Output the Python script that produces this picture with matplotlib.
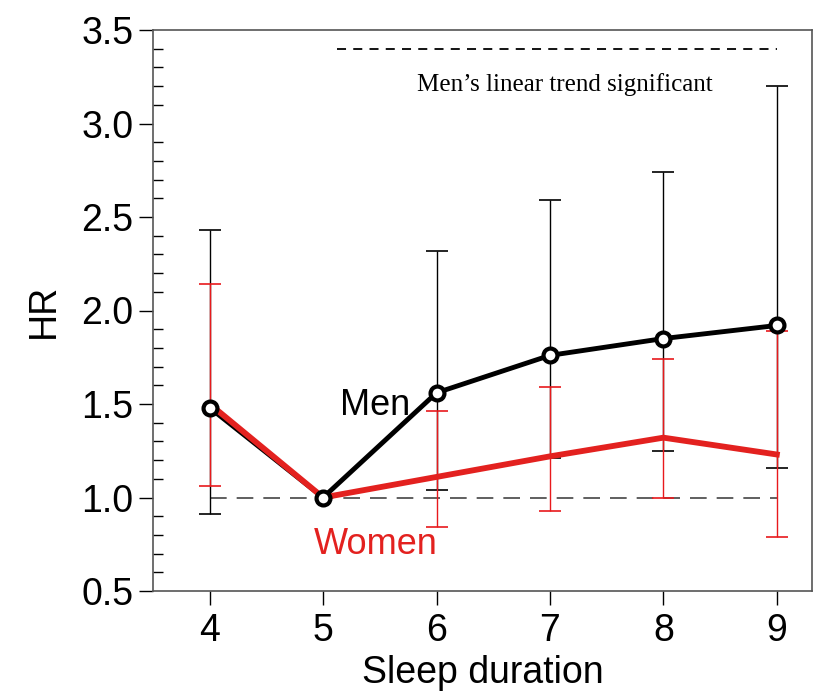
import numpy as np
import matplotlib.pyplot as plt
from matplotlib.ticker import MultipleLocator

sleep = [4, 5, 6, 7, 8, 9]

men_hr = [1.48, 1.00, 1.56, 1.76, 1.85, 1.92]
men_lo = [0.91, np.nan, 1.04, 1.21, 1.25, 1.16]
men_hi = [2.43, np.nan, 2.32, 2.59, 2.74, 3.20]

women_hr = [1.50, 1.00, 1.11, 1.22, 1.32, 1.23]
women_lo = [1.06, np.nan, 0.84, 0.93, 1.00, 0.79]
women_hi = [2.14, np.nan, 1.46, 1.59, 1.74, 1.89]

plt.rcParams['font.family'] = ['Liberation Sans', 'DejaVu Sans']

fig = plt.figure(figsize=(8.15, 6.91), dpi=100)
ax = fig.add_axes([153 / 815, 100 / 691, 659 / 815, 561 / 691])

men_hr_a = np.array(men_hr)
women_hr_a = np.array(women_hr)
men_err = [men_hr_a - np.array(men_lo), np.array(men_hi) - men_hr_a]
women_err = [women_hr_a - np.array(women_lo), np.array(women_hi) - women_hr_a]

# reference line at HR = 1
ax.plot([sleep[0], sleep[-1]], [1, 1], color='#444444', lw=1.2,
        dashes=(10, 6), zorder=1)

ax.errorbar(sleep, men_hr, yerr=men_err, fmt='none', ecolor='black',
            elinewidth=1, capsize=8, capthick=1.2, zorder=2)
ax.errorbar(sleep, women_hr, yerr=women_err, fmt='none', ecolor='#e8191c',
            elinewidth=1, capsize=8, capthick=1.2, zorder=3)

ax.plot(sleep, men_hr, color='black', lw=3.5, zorder=4)
ax.plot(sleep, women_hr, color='#e3211f', lw=4.2, zorder=5)
ax.plot(sleep, men_hr, 'o', ms=10, mfc='white', mec='black', mew=3,
        zorder=6)

# significance bar
ax.plot([5.12, 9.0], [3.40, 3.40], color='black', lw=1.3, dashes=(5, 4))
ax.text(7.13, 3.21, 'Men\u2019s linear trend significant', ha='center',
        va='center', fontsize=18, family=['Liberation Serif'])

ax.text(5.46, 1.49, 'Men', ha='center', va='center', fontsize=26,
        color='black')
ax.text(5.46, 0.75, 'Women', ha='center', va='center', fontsize=26,
        color='#e3211f')

ax.set_xlim(3.5, 9.31)
ax.set_ylim(0.5, 3.5)
ax.set_xticks(sleep)
ax.yaxis.set_major_locator(MultipleLocator(0.5))
ax.yaxis.set_minor_locator(MultipleLocator(0.1))
ax.yaxis.set_major_formatter(plt.FormatStrFormatter('%.1f'))
ax.tick_params(axis='y', which='major', direction='out', length=10,
               labelsize=27, width=1, pad=4)
ax.tick_params(axis='y', which='minor', direction='in', length=7, width=1)
ax.tick_params(axis='x', direction='out', length=10, labelsize=27, width=1,
               pad=6)
for s in ax.spines.values():
    s.set_color('#555555')
    s.set_linewidth(1.2)

ax.set_xlabel('Sleep duration', fontsize=27, labelpad=4)
ax.set_ylabel('HR', fontsize=27, labelpad=14)

fig.savefig('out.png', dpi=100)
